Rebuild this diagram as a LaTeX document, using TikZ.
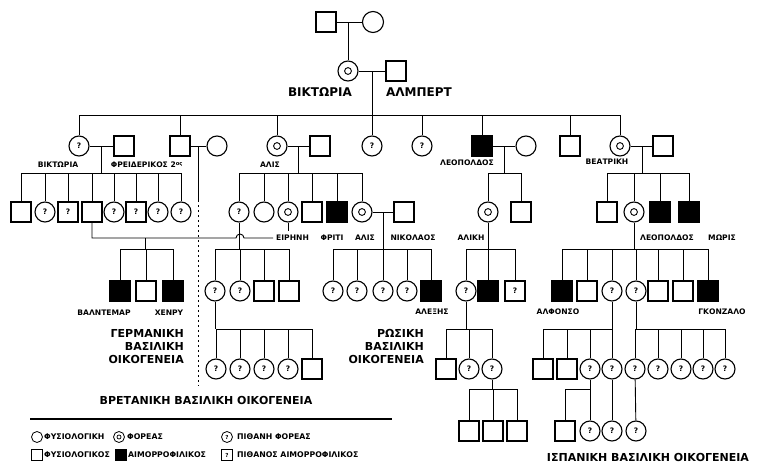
\documentclass[tikz,border=0pt]{standalone}
\usepackage{fontspec}
\setmainfont{DejaVu Sans}
\usetikzlibrary{calc}
\newcommand\qfont{\fontsize{7.5}{7.5}\selectfont\bfseries}
\newcommand\namefont{\fontsize{7.6}{8}\selectfont\bfseries}
\newcommand\bigfont{\fontsize{12}{13}\selectfont\bfseries}
\newcommand\famfont{\fontsize{11}{13}\selectfont\bfseries}
\newcommand\keyfont{\fontsize{7.8}{8}\selectfont\bfseries}
\begin{document}
\begin{tikzpicture}[x=1pt,y=-1pt,
  sym/.style={draw, line width=1.1pt, inner sep=0pt},
  male/.style={sym, rectangle, minimum size=20pt},
  fem/.style={sym, circle, minimum size=20pt},
  hemo/.style={male, fill=black},
  carr/.style={fem, path picture={\draw[line width=0.9pt] (path picture bounding box.center) circle (3.4pt);}},
  pcarr/.style={fem, font=\qfont},
  phemo/.style={male, font=\qfont},
  link/.style={line width=0.9pt},
  lbl/.style={font=\namefont, inner sep=0pt},
  fam/.style={font=\famfont, inner sep=0pt, align=right},
  key/.style={minimum size=11pt, line width=0.8pt},
  keytext/.style={font=\keyfont, inner sep=0pt, anchor=west}
]
\useasboundingbox (0,0) rectangle (764,463);
\fill[white] (0,0) rectangle (764,463);

% ---------------- row heights of the sibship lines
\coordinate (s1) at (0,115);
\coordinate (s2) at (0,173);
\coordinate (s3) at (0,249);
\coordinate (s4) at (0,329);
\coordinate (s5) at (0,389);

% ---------------- generation 0
\node[male] (gf) at (326,22) {};
\node[fem, minimum size=21pt] (gm) at (373,22) {};
\coordinate (c0) at (348,22);
\draw[link] (gf) -- (gm);

% ---------------- generation 1: Victoria and Albert
\node[carr] (vic) at (348,71) {};
\node[male] (alb) at (396,71) {};
\draw[link] (c0) -- (vic.north);
\draw[link] (vic) -- (alb);
\coordinate (c1) at (372,71);
\draw[link] (c1) -- (c1 |- s1);
\node[font=\bigfont, inner sep=0pt] (lvic) at (320,92) {ΒΙΚΤΩΡΙΑ};
\node[font=\bigfont, inner sep=0pt] (lalb) at (419,92) {ΑΛΜΠΕΡΤ};

% ---------------- generation 2
\node[pcarr] (vk) at (79,146) {?};
\node[male] (fr) at (124,146) {};
\node[male] (ed) at (180,146) {};
\node[fem] (alx) at (217,146) {};
\node[carr] (al) at (277,146) {};
\node[male] (lu) at (320,146) {};
\node[pcarr] (hl) at (372,146) {?};
\node[pcarr] (lo) at (422,146) {?};
\node[hemo] (le) at (482,146) {};
\node[fem] (he) at (526,146) {};
\node[male] (ar) at (570,146) {};
\node[carr] (be) at (620,146) {};
\node[male] (hb) at (663,146) {};
\draw[link] (vk.north |- s1) -- (be.north |- s1);
\foreach \n in {vk,ed,al,hl,lo,le,ar,be} \draw[link] (\n.north) -- (\n.north |- s1);
\draw[link] (vk) -- (fr);
\draw[link] (ed) -- (alx);
\draw[link] (al) -- (lu);
\draw[link] (le) -- (he);
\draw[link] (be) -- (hb);
\coordinate (cvf) at (101,146);
\coordinate (ced) at (198,146);
\coordinate (cal) at (298,146);
\coordinate (cle) at (504,146);
\coordinate (cbe) at (642,146);
\node[lbl] at (58,165) {ΒΙΚΤΩΡΙΑ};
\node[lbl] at (147,165) {ΦΡΕΙΔΕΡΙΚΟΣ 2\textsuperscript{ος}};
\node[lbl] at (270,165) {ΑΛΙΣ};
\node[lbl] at (467,163) {ΛΕΟΠΟΛΔΟΣ};
\node[lbl] at (607,162) {ΒΕΑΤΡΙΚΗ};

% dividing line below Edward's marriage
\coordinate (sepa) at (198,200);
\coordinate (sepb) at (198,386);
\draw[link] (ced) -- (sepa);
\draw[line width=1pt, dash pattern=on 2pt off 3pt] (sepa) -- (sepb);

% ---------------- generation 3
% Victoria and Frederick
\node[male] (a1) at (21,212) {};
\node[pcarr] (a2) at (45,212) {?};
\node[phemo] (a3) at (68,212) {?};
\node[male] (hp) at (92,212) {};
\node[pcarr] (a5) at (114,212) {?};
\node[phemo] (a6) at (136,212) {?};
\node[pcarr] (a7) at (158,212) {?};
\node[pcarr] (a8) at (181,212) {?};
\draw[link] (cvf) -- (cvf |- s2);
\draw[link] (a1.north |- s2) -- (a8.north |- s2);
\foreach \n in {a1,a2,a3,hp,a5,a6,a7,a8} \draw[link] (\n.north) -- (\n.north |- s2);
% Alice and Ludwig
\node[pcarr] (vh) at (239,212) {?};
\node[fem] (el) at (264,212) {};
\node[carr] (ir) at (288,212) {};
\node[male] (er) at (312,212) {};
\node[hemo] (ft) at (337,212) {};
\node[carr] (ax) at (362,212) {};
\node[male] (ni) at (404,212) {};
\draw[link] (cal) -- (cal |- s2);
\draw[link] (vh.north |- s2) -- (ax.north |- s2);
\foreach \n in {vh,el,ir,er,ft,ax} \draw[link] (\n.north) -- (\n.north |- s2);
\draw[link] (ax) -- (ni);
\coordinate (cax) at (383,212);
% Leopold
\node[carr] (aa) at (488,212) {};
\node[male] (ce) at (521,212) {};
\draw[link] (cle) -- (cle |- s2);
\draw[link] (aa.north |- s2) -- (ce.north |- s2);
\foreach \n in {aa,ce} \draw[link] (\n.north) -- (\n.north |- s2);
% Beatrice
\node[male] (b1) at (607,212) {};
\node[carr] (ve) at (634,212) {};
\node[hemo] (lp) at (660,212) {};
\node[hemo] (mr) at (689,212) {};
\draw[link] (cbe) -- (cbe |- s2);
\draw[link] (b1.north |- s2) -- (mr.north |- s2);
\foreach \n in {b1,ve,lp,mr} \draw[link] (\n.north) -- (\n.north |- s2);

\node[lbl, anchor=west] at (276,238) {ΕΙΡΗΝΗ};
\node[lbl] at (332,238) {ΦΡΙΤΙ};
\node[lbl] at (365,238) {ΑΛΙΣ};
\node[lbl] at (413,238) {ΝΙΚΟΛΑΟΣ};
\node[lbl] at (471,238) {ΑΛΙΚΗ};
\node[lbl] at (667,238) {ΛΕΟΠΟΛΔΟΣ};
\node[lbl] at (722,238) {ΜΩΡΙΣ};

% Henry of Prussia and Irene
\coordinate (hop) at (236,238);
\coordinate (irend) at (273,238);
\coordinate (irtick) at (288,231);
\draw[link] (hp.south) |- (hop) arc[start angle=180, end angle=0, radius=4pt] -- (irend);
\draw[link] (ir.south) -- (irtick);
\coordinate (chi) at (145,238);

% ---------------- generation 4
\node[hemo] (wa) at (120,291) {};
\node[male] (d2) at (146,291) {};
\node[hemo] (hy) at (173,291) {};
\draw[link] (chi) -- (chi |- s3);
\draw[link] (wa.north |- s3) -- (hy.north |- s3);
\foreach \n in {wa,d2,hy} \draw[link] (\n.north) -- (\n.north |- s3);
\node[lbl] at (104,313) {ΒΑΛΝΤΕΜΑΡ};
\node[lbl] at (169,313) {ΧΕΝΡΥ};

\node[pcarr] (ab) at (215,291) {?};
\node[pcarr] (e2) at (240,291) {?};
\node[male] (e3) at (264,291) {};
\node[male] (e4) at (289,291) {};
\draw[link] (vh.south) -- (vh.south |- s3);
\draw[link] (ab.north |- s3) -- (e4.north |- s3);
\foreach \n in {ab,e2,e3,e4} \draw[link] (\n.north) -- (\n.north |- s3);

\node[pcarr] (r1) at (333,291) {?};
\node[pcarr] (r2) at (357,291) {?};
\node[pcarr] (r3) at (383,291) {?};
\node[pcarr] (r4) at (407,291) {?};
\node[hemo] (axs) at (431,291) {};
\draw[link] (cax) -- (cax |- s3);
\draw[link] (r1.north |- s3) -- (axs.north |- s3);
\foreach \n in {r1,r2,r3,r4,axs} \draw[link] (\n.north) -- (\n.north |- s3);
\node[lbl] at (432,312) {ΑΛΕΞΗΣ};

\node[pcarr] (may) at (466,291) {?};
\node[hemo] (g2) at (488,291) {};
\node[phemo] (g3) at (515,291) {?};
\draw[link] (aa.south) -- (aa.south |- s3);
\draw[link] (may.north |- s3) -- (g3.north |- s3);
\foreach \n in {may,g2,g3} \draw[link] (\n.north) -- (\n.north |- s3);

\node[hemo] (alf) at (562,291) {};
\node[male] (h2) at (587,291) {};
\node[pcarr] (bs) at (612,291) {?};
\node[pcarr] (ms) at (636,291) {?};
\node[male] (h5) at (658,291) {};
\node[male] (h6) at (683,291) {};
\node[hemo] (gon) at (708,291) {};
\draw[link] (ve.south) -- (ve.south |- s3);
\draw[link] (alf.north |- s3) -- (gon.north |- s3);
\foreach \n in {alf,h2,bs,ms,h5,h6,gon} \draw[link] (\n.north) -- (\n.north |- s3);
\node[lbl] at (558,312) {ΑΛΦΟΝΣΟ};
\node[lbl] at (722,312) {ΓΚΟΝΖΑΛΟ};

% ---------------- generation 5
\node[pcarr] (t1) at (216,369) {?};
\node[pcarr] (t2) at (240,369) {?};
\node[pcarr] (t3) at (264,369) {?};
\node[pcarr] (t4) at (288,369) {?};
\node[male] (t5) at (312,369) {};
\draw[link] (ab.south) -- (ab.south |- s4);
\draw[link] (t1.north |- s4) -- (t5.north |- s4);
\foreach \n in {t1,t2,t3,t4,t5} \draw[link] (\n.north) -- (\n.north |- s4);

\node[male] (m1) at (446,369) {};
\node[pcarr] (m2) at (469,369) {?};
\node[pcarr] (lm) at (492,369) {?};
\draw[link] (may.south) -- (may.south |- s4);
\draw[link] (m1.north |- s4) -- (lm.north |- s4);
\foreach \n in {m1,m2,lm} \draw[link] (\n.north) -- (\n.north |- s4);

\node[male] (p1) at (543,369) {};
\node[male] (p2) at (567,369) {};
\node[pcarr] (sa) at (590,369) {?};
\node[pcarr] (sb) at (612,369) {?};
\draw[link] (bs.south) -- (bs.south |- s4);
\draw[link] (p1.north |- s4) -- (sb.north |- s4);
\foreach \n in {p1,p2,sa,sb} \draw[link] (\n.north) -- (\n.north |- s4);

\node[pcarr] (sc) at (635,369) {?};
\node[pcarr] (q2) at (658,369) {?};
\node[pcarr] (q3) at (681,369) {?};
\node[pcarr] (q4) at (703,369) {?};
\node[pcarr] (q5) at (725,369) {?};
\draw[link] (ms.south) -- (ms.south |- s4);
\draw[link] (sc.north |- s4) -- (q5.north |- s4);
\foreach \n in {sc,q2,q3,q4,q5} \draw[link] (\n.north) -- (\n.north |- s4);

% ---------------- generation 6
\node[male] (n1) at (469,431) {};
\node[male] (n2) at (493,431) {};
\node[male] (n3) at (517,431) {};
\draw[link] (lm.south) -- (lm.south |- s5);
\draw[link] (n1.north |- s5) -- (n3.north |- s5);
\foreach \n in {n1,n2,n3} \draw[link] (\n.north) -- (\n.north |- s5);

\node[male] (o1) at (565,431) {};
\node[pcarr] (o2) at (590,431) {?};
\node[pcarr] (o3) at (612,431) {?};
\node[pcarr] (o4) at (636,431) {?};
\draw[link] (sa.south) -- (sa.south |- s5);
\draw[link] (o1.north |- s5) -- (o2.north |- s5);
\foreach \n in {o1,o2} \draw[link] (\n.north) -- (\n.north |- s5);
\draw[link] (sb) -- (o3);
\draw[link] (sc) -- (o4);

% ---------------- family titles
\node[fam, anchor=north east] at (184,329) {ΓΕΡΜΑΝΙΚΗ\\ΒΑΣΙΛΙΚΗ\\ΟΙΚΟΓΕΝΕΙΑ};
\node[fam, anchor=north east] at (424,329) {ΡΩΣΙΚΗ\\ΒΑΣΙΛΙΚΗ\\ΟΙΚΟΓΕΝΕΙΑ};
\node[fam] at (206,400) {ΒΡΕΤΑΝΙΚΗ ΒΑΣΙΛΙΚΗ ΟΙΚΟΓΕΝΕΙΑ};
\node[fam] at (648,457) {ΙΣΠΑΝΙΚΗ ΒΑΣΙΛΙΚΗ ΟΙΚΟΓΕΝΕΙΑ};

% ---------------- key
\coordinate (k1) at (30,419);
\coordinate (k2) at (392,419);
\draw[line width=2.6pt] (k1) -- (k2);
\node[fem, key] (kf) at (37,437) {};
\node[keytext] at (44,437) {ΦΥΣΙΟΛΟΓΙΚΗ};
\node[fem, key, path picture={\draw[line width=0.7pt] (path picture bounding box.center) circle (2pt);}] (kc) at (119,437) {};
\node[keytext] at (127,437) {ΦΟΡΕΑΣ};
\node[fem, key, font=\fontsize{5.5}{5.5}\selectfont\bfseries] (kp) at (227,437) {?};
\node[keytext] at (237,437) {ΠΙΘΑΝΗ ΦΟΡΕΑΣ};
\node[male, key] (km) at (37,455) {};
\node[keytext] at (44,455) {ΦΥΣΙΟΛΟΓΙΚΟΣ};
\node[hemo, key] (kh) at (121,455) {};
\node[keytext] at (128,455) {ΑΙΜΟΡΡΟΦΙΛΙΚΟΣ};
\node[male, key, font=\fontsize{5.5}{5.5}\selectfont\bfseries] (kq) at (227,455) {?};
\node[keytext] at (237,455) {ΠΙΘΑΝΟΣ ΑΙΜΟΡΡΟΦΙΛΙΚΟΣ};
\end{tikzpicture}
\end{document}
